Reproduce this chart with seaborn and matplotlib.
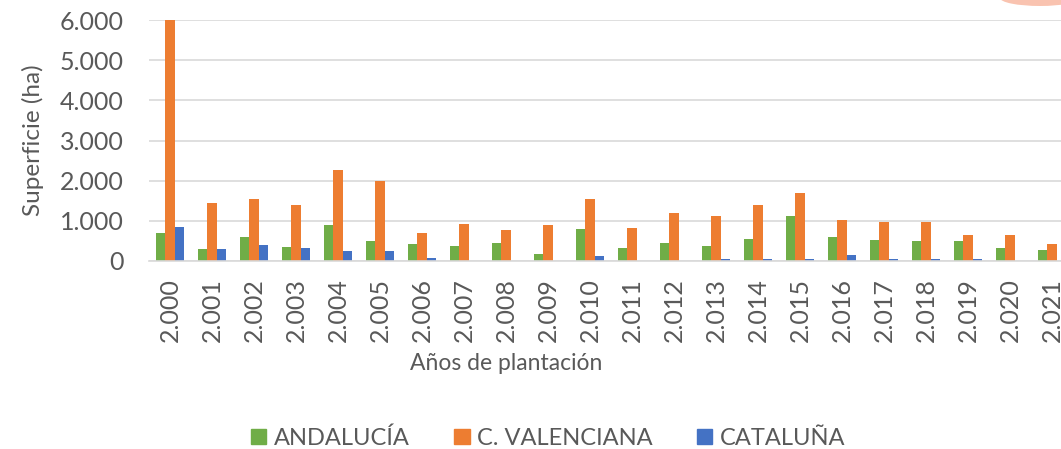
import numpy as np
import pandas as pd
import matplotlib
matplotlib.use("Agg")
import matplotlib.pyplot as plt
import seaborn as sns
from matplotlib.patches import Ellipse

# --- data (ha) ---
years = list(range(2000, 2022))
andalucia = [690, 290, 590, 350, 890, 490, 415, 380, 450, 175, 790, 315,
             450, 380, 555, 1130, 590, 520, 490, 490, 315, 280]
valenciana = [6000, 1435, 1535, 1400, 2260, 1985, 690, 920, 765, 890, 1535, 820,
              1205, 1130, 1400, 1685, 1030, 960, 960, 655, 655, 415]
cataluna = [855, 290, 390, 325, 250, 250, 80, 0, 0, 0, 115, 0,
            0, 50, 50, 50, 150, 50, 50, 50, 0, 0]
series = ["ANDALUCÍA", "C. VALENCIANA", "CATALUÑA"]
colors = ["#70AD47", "#ED7D31", "#4472C4"]
year_labels = [f"{y // 1000}.{y % 1000:03d}" for y in years]

df = pd.DataFrame({
    "year": year_labels * 3,
    "region": np.repeat(series, len(years)),
    "ha": andalucia + valenciana + cataluna,
})

sns.set_theme(style="white")
plt.rcParams["font.family"] = ["Lato", "DejaVu Sans"]
txt = "#595959"

W, H = 1061, 449
fig = plt.figure(figsize=(W / 100, H / 100), dpi=100)
# axes runs a bit past the right edge, like the cropped original
ax = fig.add_axes([149 / W, (H - 261) / H, (1073 - 149) / W, (261 - 20) / H])

sns.barplot(data=df, x="year", y="ha", hue="region", palette=colors,
            width=0.65, linewidth=0, saturation=1, ax=ax, legend=False)

ax.set_ylim(0, 6000)
ax.set_xlim(-0.5, len(years) - 0.5)
ax.set_yticks(range(0, 6001, 1000))
ax.set_yticklabels(["0"] + [f"{v // 1000}.000" for v in range(1000, 6001, 1000)])
ax.set_xticks(range(len(years)))
ax.set_xticklabels(year_labels, rotation=90)
ax.tick_params(axis="both", length=0, colors=txt, labelsize=18)
ax.tick_params(axis="x", pad=12)
ax.tick_params(axis="y", pad=18)
ax.yaxis.grid(True, color="#D9D9D9", linewidth=1.2)
ax.set_axisbelow(True)
for s in ["top", "right", "left"]:
    ax.spines[s].set_visible(False)
ax.spines["bottom"].set_color("#D9D9D9")
ax.spines["bottom"].set_linewidth(1.2)

ax.set_ylabel("Superficie (ha)", fontsize=17.5, color=txt)
ax.yaxis.set_label_coords((44 - 149) / 924, 0.5)
ax.set_xlabel("Años de plantación", fontsize=16.5, color=txt)
ax.xaxis.set_label_coords((506 - 149) / 924, -(353 - 261) / 241)

handles = [plt.Rectangle((0, 0), 1, 1, color=c) for c in colors]
fig.legend(handles, series, loc="center", bbox_to_anchor=(548 / W, 1 - 438 / H),
           ncol=3, frameon=False, fontsize=17, labelcolor=txt,
           handlelength=0.65, handleheight=0.65, handletextpad=0.3,
           columnspacing=1.9)

# faint orange shape peeking in at the top right corner
fig.patches.append(Ellipse((1040 / W, 1 + 2 / H), 80 / W, 16 / H,
                           transform=fig.transFigure, color="#F26B3A",
                           alpha=0.4, lw=0))

fig.savefig("out.png", dpi=100)
